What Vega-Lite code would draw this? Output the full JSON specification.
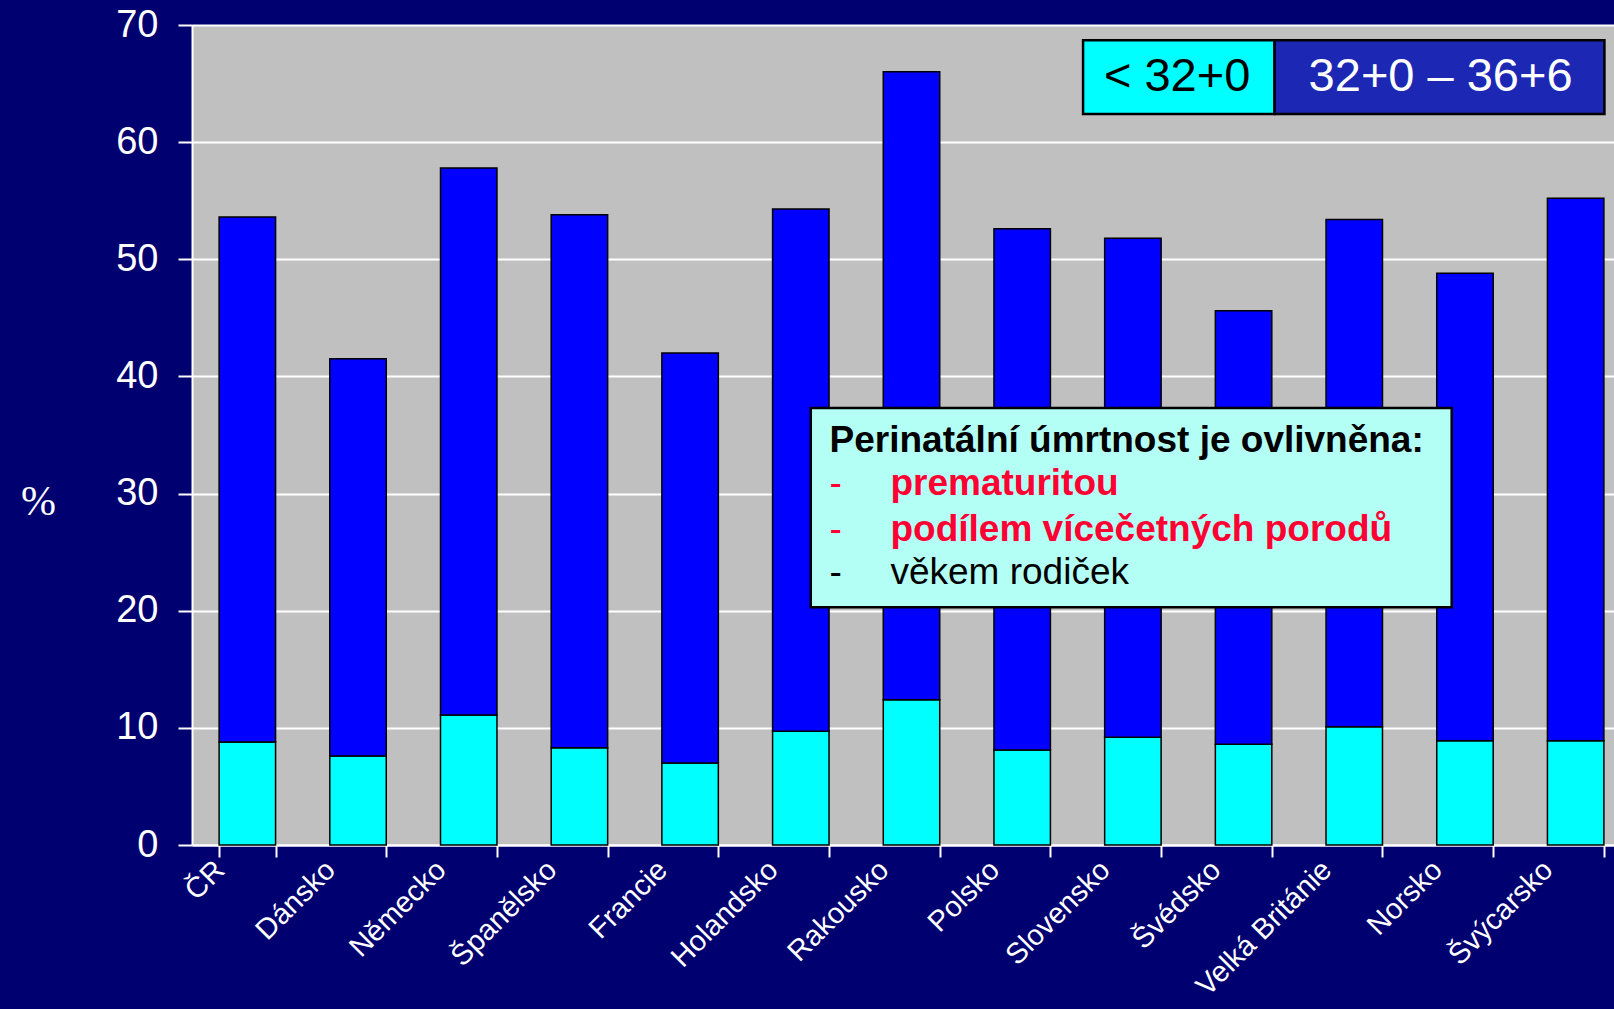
{
  "$schema": "https://vega.github.io/schema/vega-lite/v6.json",
  "width": 1422,
  "height": 820,
  "autosize": {"type": "none"},
  "padding": {"left": 192, "top": 25, "right": 0, "bottom": 164},
  "background": "#000070",
  "config": {"view": {"fill": "#c0c0c0", "stroke": null}, "font": "Liberation Sans"},
  "datasets": {
    "bars": [
      {"country": "ČR", "group": "< 32+0", "value": 8.8},
      {"country": "ČR", "group": "32+0 – 36+6", "value": 44.8},
      {"country": "Dánsko", "group": "< 32+0", "value": 7.6},
      {"country": "Dánsko", "group": "32+0 – 36+6", "value": 33.9},
      {"country": "Německo", "group": "< 32+0", "value": 11.1},
      {"country": "Německo", "group": "32+0 – 36+6", "value": 46.7},
      {"country": "Španělsko", "group": "< 32+0", "value": 8.3},
      {"country": "Španělsko", "group": "32+0 – 36+6", "value": 45.5},
      {"country": "Francie", "group": "< 32+0", "value": 7.0},
      {"country": "Francie", "group": "32+0 – 36+6", "value": 35.0},
      {"country": "Holandsko", "group": "< 32+0", "value": 9.7},
      {"country": "Holandsko", "group": "32+0 – 36+6", "value": 44.6},
      {"country": "Rakousko", "group": "< 32+0", "value": 12.4},
      {"country": "Rakousko", "group": "32+0 – 36+6", "value": 53.6},
      {"country": "Polsko", "group": "< 32+0", "value": 8.1},
      {"country": "Polsko", "group": "32+0 – 36+6", "value": 44.5},
      {"country": "Slovensko", "group": "< 32+0", "value": 9.2},
      {"country": "Slovensko", "group": "32+0 – 36+6", "value": 42.6},
      {"country": "Švédsko", "group": "< 32+0", "value": 8.6},
      {"country": "Švédsko", "group": "32+0 – 36+6", "value": 37.0},
      {"country": "Velká Británie", "group": "< 32+0", "value": 10.1},
      {"country": "Velká Británie", "group": "32+0 – 36+6", "value": 43.3},
      {"country": "Norsko", "group": "< 32+0", "value": 8.9},
      {"country": "Norsko", "group": "32+0 – 36+6", "value": 39.9},
      {"country": "Švýcarsko", "group": "< 32+0", "value": 8.9},
      {"country": "Švýcarsko", "group": "32+0 – 36+6", "value": 46.3}
    ]
  },
  "layer": [
    {
      "data": {"name": "bars"},
      "mark": {"type": "bar", "stroke": "#000000", "strokeWidth": 1.5},
      "encoding": {
        "x": {
          "field": "country", "type": "nominal", "sort": null,
          "scale": {"range": [0, 1439], "paddingInner": 0.49, "paddingOuter": 0.245},
          "axis": {
            "title": null, "tickBand": "extent", "grid": false,
            "domainColor": "white", "domainWidth": 2,
            "tickColor": "white", "tickSize": 12, "tickWidth": 2,
            "labelColor": "white", "labelFontSize": 29, "labelAngle": -45,
            "labelAlign": "right", "labelBaseline": "middle", "labelLimit": 0,
            "labelOffset": -28, "labelPadding": 8
          }
        },
        "y": {
          "field": "value", "type": "quantitative", "stack": "zero",
          "scale": {"domain": [0, 70], "nice": false},
          "axis": {
            "values": [0, 10, 20, 30, 40, 50, 60, 70],
            "grid": true, "gridColor": "white", "gridWidth": 2, "gridOpacity": 1,
            "domainColor": "white", "domainWidth": 2,
            "tickColor": "white", "tickSize": 14, "tickWidth": 2,
            "labelColor": "white", "labelFontSize": 38, "labelPadding": 20,
            "title": "%", "titleFont": "Liberation Serif", "titleFontSize": 42,
            "titleFontWeight": "normal", "titleColor": "white", "titleAngle": 0,
            "titleX": -154, "titleY": 476, "titleAlign": "center", "titleBaseline": "middle"
          }
        },
        "color": {
          "field": "group", "type": "nominal",
          "scale": {"domain": ["< 32+0", "32+0 – 36+6"], "range": ["#00ffff", "#0000ff"]},
          "legend": null
        },
        "order": {"field": "group", "sort": "descending"}
      }
    },
    {
      "data": {"values": [{}]},
      "encoding": {
        "x": {"datum": 0, "type": "quantitative", "scale": {"domain": [0, 13], "range": [0, 1439], "nice": false, "zero": false}, "axis": null},
        "y": {"datum": 0, "type": "quantitative", "scale": {"domain": [0, 70], "nice": false}, "axis": null}
      },
      "layer": [
        {
          "mark": {"type": "rect", "fill": "#00ffff", "stroke": "#000000", "strokeWidth": 2.5},
          "encoding": {"x": {"datum": 8.05, "type": "quantitative"}, "x2": {"datum": 9.78}, "y": {"datum": 68.7, "type": "quantitative"}, "y2": {"datum": 62.4}}
        },
        {
          "mark": {"type": "rect", "fill": "#1c28b4", "stroke": "#000000", "strokeWidth": 2.5},
          "encoding": {"x": {"datum": 9.78, "type": "quantitative"}, "x2": {"datum": 12.76}, "y": {"datum": 68.7, "type": "quantitative"}, "y2": {"datum": 62.4}}
        },
        {
          "mark": {"type": "text", "text": "< 32+0", "fontSize": 47, "color": "#000000", "align": "center", "baseline": "middle"},
          "encoding": {"x": {"datum": 8.9, "type": "quantitative"}, "y": {"datum": 65.55, "type": "quantitative"}}
        },
        {
          "mark": {"type": "text", "text": "32+0 – 36+6", "fontSize": 47, "color": "#ffffff", "align": "center", "baseline": "middle"},
          "encoding": {"x": {"datum": 11.28, "type": "quantitative"}, "y": {"datum": 65.55, "type": "quantitative"}}
        },
        {
          "mark": {"type": "rect", "fill": "#b3fff6", "stroke": "#000000", "strokeWidth": 2.5},
          "encoding": {"x": {"datum": 5.59, "type": "quantitative"}, "x2": {"datum": 11.38}, "y": {"datum": 37.3, "type": "quantitative"}, "y2": {"datum": 20.3}}
        },
        {
          "mark": {"type": "text", "text": "Perinatální úmrtnost je ovlivněna:", "fontSize": 37, "fontWeight": "bold", "color": "#000000", "align": "left", "baseline": "middle"},
          "encoding": {"x": {"datum": 5.76, "type": "quantitative"}, "y": {"datum": 34.5, "type": "quantitative"}}
        },
        {
          "mark": {"type": "text", "text": "-", "fontSize": 37, "color": "#ff0033", "align": "left", "baseline": "middle"},
          "encoding": {"x": {"datum": 5.76, "type": "quantitative"}, "y": {"datum": 30.8, "type": "quantitative"}}
        },
        {
          "mark": {"type": "text", "text": "prematuritou", "fontSize": 37, "fontWeight": "bold", "color": "#ff0033", "align": "left", "baseline": "middle"},
          "encoding": {"x": {"datum": 6.31, "type": "quantitative"}, "y": {"datum": 30.8, "type": "quantitative"}}
        },
        {
          "mark": {"type": "text", "text": "-", "fontSize": 37, "color": "#ff0033", "align": "left", "baseline": "middle"},
          "encoding": {"x": {"datum": 5.76, "type": "quantitative"}, "y": {"datum": 26.9, "type": "quantitative"}}
        },
        {
          "mark": {"type": "text", "text": "podílem vícečetných porodů", "fontSize": 37, "fontWeight": "bold", "color": "#ff0033", "align": "left", "baseline": "middle"},
          "encoding": {"x": {"datum": 6.31, "type": "quantitative"}, "y": {"datum": 26.9, "type": "quantitative"}}
        },
        {
          "mark": {"type": "text", "text": "-", "fontSize": 37, "color": "#000000", "align": "left", "baseline": "middle"},
          "encoding": {"x": {"datum": 5.76, "type": "quantitative"}, "y": {"datum": 23.2, "type": "quantitative"}}
        },
        {
          "mark": {"type": "text", "text": "věkem rodiček", "fontSize": 37, "color": "#000000", "align": "left", "baseline": "middle"},
          "encoding": {"x": {"datum": 6.31, "type": "quantitative"}, "y": {"datum": 23.2, "type": "quantitative"}}
        }
      ]
    }
  ],
  "resolve": {"scale": {"x": "independent", "y": "independent"}, "axis": {"x": "independent", "y": "independent"}}
}
